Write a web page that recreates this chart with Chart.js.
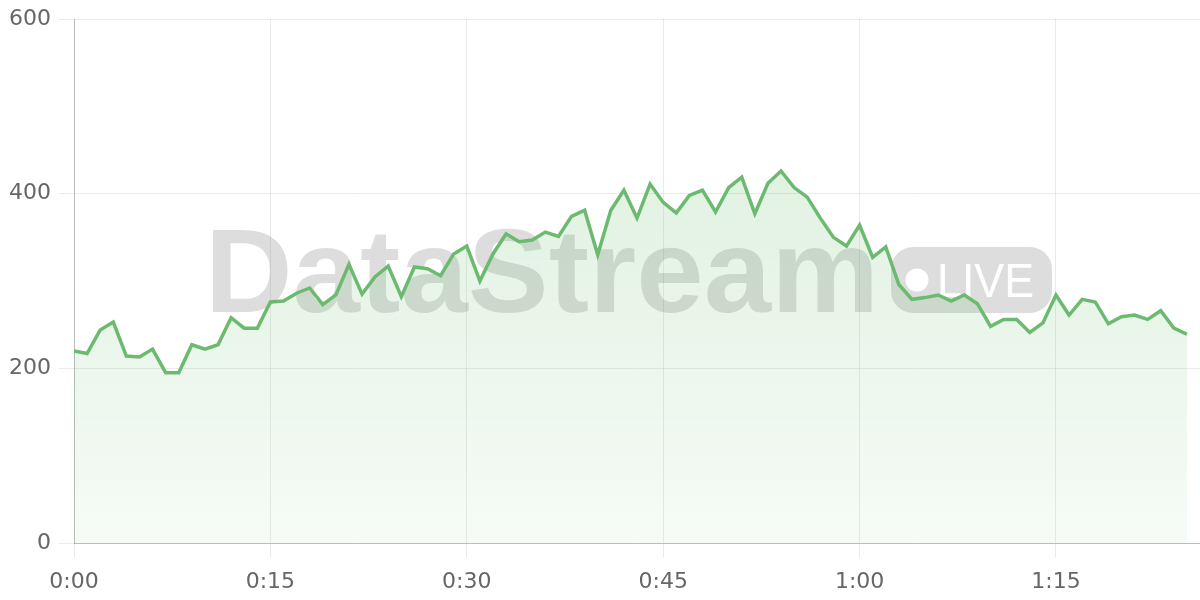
<!DOCTYPE html>
<html>
<head>
<meta charset="utf-8">
<title>DataStream live</title>
<script src="https://cdn.jsdelivr.net/npm/chart.js@4.4.1/dist/chart.umd.min.js"></script>
<style>
  html, body { margin: 0; padding: 0; background: #fff; }
  #wrap { width: 1200px; height: 600px; }
</style>
</head>
<body>
<div id="wrap"><canvas id="streamChart"></canvas></div>
<script>
// one reading per minute, 0:00 .. 1:25
const streamValues = [
  220, 217, 244, 253, 214, 213, 222, 195, 195, 227,
  222, 227, 258, 246, 246, 276, 277, 286, 292, 273,
  284, 319, 285, 305, 317, 282, 316, 314, 306, 331,
  340, 300, 331, 354, 345, 347, 356, 351, 374, 381,
  330, 381, 404, 372, 411, 390, 378, 398, 404, 379,
  407, 419, 377, 412, 426, 407, 396, 372, 350, 340,
  364, 327, 339, 296, 279, 281, 284, 277, 284, 274,
  248, 256, 256, 241, 252, 284, 261, 279, 276, 251,
  259, 261, 256, 266, 246, 239
];
const xTickLabels = ["0:00", "0:15", "0:30", "0:45", "1:00", "1:15"];
const xTickStep = 15;
const yTicks = [0, 200, 400, 600];

const lineColor = "rgb(108, 186, 112)";
const tickFont = { family: "'DejaVu Sans', sans-serif", size: 22 };

// watermark behind the line and fill
const watermark = {
  id: "watermark",
  beforeDatasetsDraw(chart) {
    const ctx = chart.ctx;
    ctx.save();
    ctx.fillStyle = "rgba(0, 0, 0, 0.135)";
    ctx.font = "bold 119px 'Liberation Sans', Arial, sans-serif";
    ctx.textAlign = "left";
    ctx.textBaseline = "alphabetic";
    const w = ctx.measureText("DataStream").width;
    ctx.save();
    ctx.translate(205, 312);
    ctx.scale(674 / w, 1);
    ctx.fillText("DataStream", 0, 0);
    ctx.restore();

    ctx.beginPath();
    ctx.roundRect(891, 247, 161, 66, 22);
    ctx.fill();

    ctx.fillStyle = "#fff";
    ctx.beginPath();
    ctx.arc(917, 280, 11.5, 0, Math.PI * 2);
    ctx.fill();
    ctx.font = "48px 'Liberation Sans', Arial, sans-serif";
    ctx.fillText("LIVE", 937, 297, 97);
    ctx.restore();
  }
};

const ctx = document.getElementById("streamChart").getContext("2d");
new Chart(ctx, {
  type: "line",
  data: {
    datasets: [
      {
        data: streamValues.map((v, i) => ({ x: i, y: v })),
        borderColor: lineColor,
        borderWidth: 3.5,
        pointRadius: 0,
        tension: 0,
        fill: "origin",
        backgroundColor: (context) => {
          const area = context.chart.chartArea;
          if (!area) return "rgba(102, 187, 106, 0.15)";
          const g = context.chart.ctx.createLinearGradient(0, area.top, 0, area.bottom);
          g.addColorStop(0, "rgba(102, 187, 106, 0.25)");
          g.addColorStop(1, "rgba(102, 187, 106, 0.06)");
          return g;
        }
      }
    ]
  },
  options: {
    responsive: true,
    maintainAspectRatio: false,
    animation: false,
    layout: { padding: { top: 19, right: 0, bottom: 0, left: 0 } },
    plugins: {
      legend: { display: false },
      tooltip: { enabled: false }
    },
    scales: {
      x: {
        type: "linear",
        min: 0,
        max: streamValues.length,
        afterFit: (scale) => { scale.height = 57; },
        grid: { color: "rgba(0, 0, 0, 0.08)", tickLength: 15 },
        border: { color: "rgba(0, 0, 0, 0.2)" },
        ticks: {
          stepSize: xTickStep,
          includeBounds: false,
          maxRotation: 0,
          padding: 11,
          color: "#666",
          font: tickFont,
          callback: (value) => xTickLabels[value / xTickStep]
        }
      },
      y: {
        min: yTicks[0],
        max: yTicks[yTicks.length - 1],
        afterFit: (scale) => {
          scale.width = 74;
          scale.paddingTop = 0;
          scale.paddingBottom = 0;
        },
        grid: { color: "rgba(0, 0, 0, 0.08)", tickLength: 15 },
        border: { color: "rgba(0, 0, 0, 0.2)" },
        ticks: {
          stepSize: 200,
          padding: 8,
          color: "#666",
          font: tickFont
        }
      }
    }
  },
  plugins: [watermark]
});
</script>
</body>
</html>
